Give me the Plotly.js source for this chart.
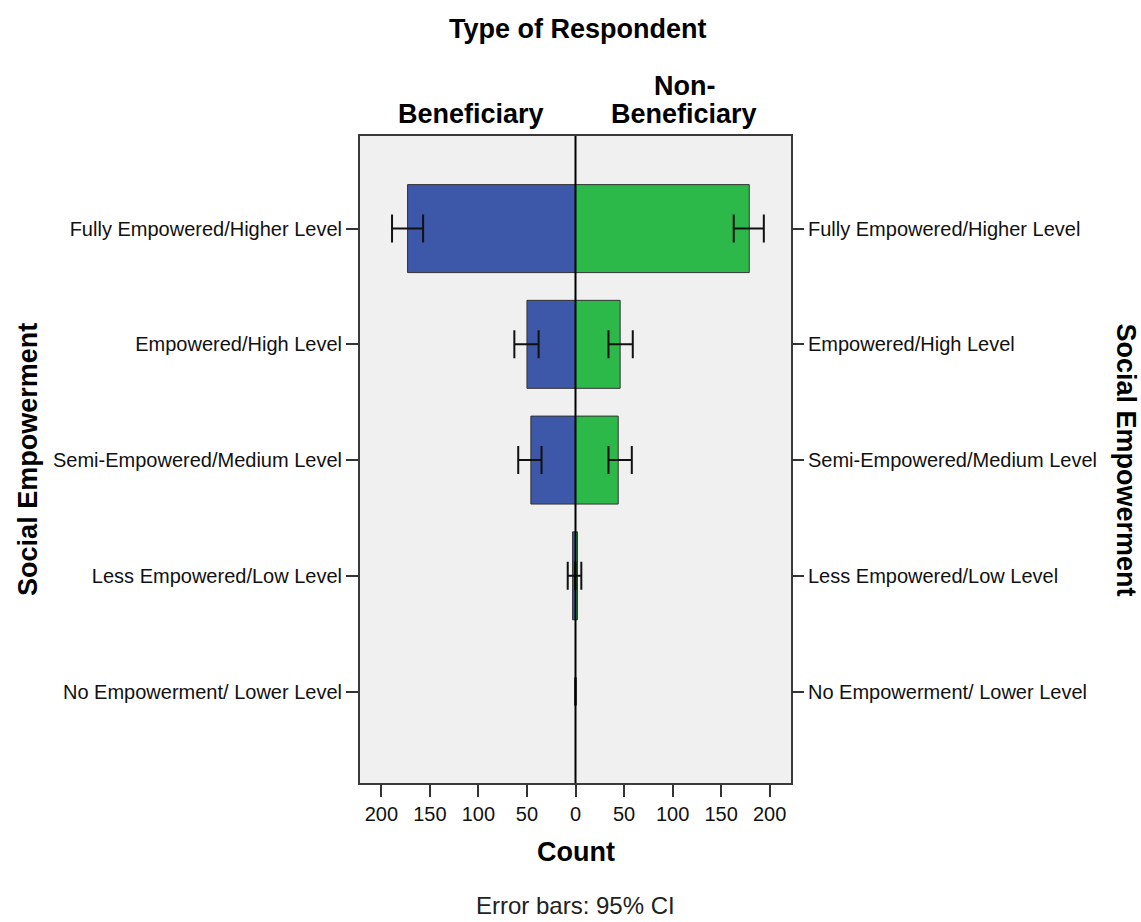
<!DOCTYPE html>
<html>
<head>
<meta charset="utf-8">
<script src="https://cdn.plot.ly/plotly-3.0.1.min.js"></script>
<style>html,body{margin:0;padding:0;background:#fff;}#chart{width:1141px;height:922px;}</style>
</head>
<body>
<div id="chart"></div>
<script>
// Categories (top to bottom)
const categories = [
  'Fully Empowered/Higher Level',
  'Empowered/High Level',
  'Semi-Empowered/Medium Level',
  'Less Empowered/Low Level',
  'No Empowerment/ Lower Level'
];
// Beneficiary counts and 95% CI bounds
const benCount = [173, 50, 46, 3, 0];
const benLower = [157, 38, 35, 0.5, null];
const benUpper = [189, 63, 59, 8, null];
// Non-Beneficiary counts and 95% CI bounds
const nonCount = [179, 46, 44, 2, 0];
const nonLower = [163, 34, 34, 0, null];
const nonUpper = [194, 59, 58, 6, null];
// Axis tick values/labels
const xTickVals = [-200, -150, -100, -50, 0, 50, 100, 150, 200];
const xTickText = ['200', '150', '100', '50', '0', '50', '100', '150', '200'];

const FONT = '"Liberation Sans", Arial, sans-serif';

const benX = benCount.map(v => -v);
// For mirrored (negative) bars: +x direction = toward zero (lower bound)
const benPlus = benCount.map((v, i) => benLower[i] == null ? null : v - benLower[i]);
const benMinus = benCount.map((v, i) => benUpper[i] == null ? null : benUpper[i] - v);
const nonPlus = nonCount.map((v, i) => nonUpper[i] == null ? null : nonUpper[i] - v);
const nonMinus = nonCount.map((v, i) => nonLower[i] == null ? null : v - nonLower[i]);
// no outline for empty (zero) bars
const benOutline = benCount.map(v => v > 0 ? 1 : 0);
const nonOutline = nonCount.map(v => v > 0 ? 1 : 0);

const errStyle = {color: '#111', thickness: 2, width: 14};

const traces = [
  {
    type: 'bar', orientation: 'h', name: 'Beneficiary',
    y: categories, x: benX, width: 0.76,
    marker: {color: '#3d57a9', line: {color: '#333', width: benOutline}},
    error_x: Object.assign({type: 'data', symmetric: false, array: benPlus, arrayminus: benMinus, visible: true}, errStyle),
    hoverinfo: 'skip'
  },
  {
    type: 'bar', orientation: 'h', name: 'Non-Beneficiary',
    y: categories, x: nonCount, width: 0.76,
    marker: {color: '#2db84a', line: {color: '#333', width: nonOutline}},
    error_x: Object.assign({type: 'data', symmetric: false, array: nonPlus, arrayminus: nonMinus, visible: true}, errStyle),
    hoverinfo: 'skip'
  },
  {
    type: 'scatter', mode: 'markers', y: categories, x: categories.map(() => 0),
    yaxis: 'y2', marker: {opacity: 0}, hoverinfo: 'skip', showlegend: false
  }
];

const yRange = [4.79, -0.8];

const layout = {
  width: 1141, height: 922,
  margin: {l: 360, r: 349.5, t: 136, b: 139.3, pad: 0},
  paper_bgcolor: '#ffffff',
  plot_bgcolor: '#f0f0f0',
  barmode: 'overlay',
  showlegend: false,
  font: {family: FONT, color: '#111'},
  xaxis: {
    range: [-222, 222],
    tickmode: 'array', tickvals: xTickVals, ticktext: xTickText,
    ticks: 'outside', ticklen: 12, tickwidth: 2, tickcolor: '#333',
    tickfont: {size: 20, family: FONT, color: '#111'},
    showgrid: false, zeroline: false,
    showline: true, linecolor: '#3a3a3a', linewidth: 2, mirror: true
  },
  yaxis: {
    type: 'category', categoryorder: 'array', categoryarray: categories,
    range: yRange,
    ticks: 'outside', ticklen: 12, tickwidth: 2, tickcolor: '#333',
    tickfont: {size: 20, family: FONT, color: '#111'},
    showgrid: false, zeroline: false,
    showline: true, linecolor: '#3a3a3a', linewidth: 2, mirror: true
  },
  yaxis2: {
    type: 'category', categoryorder: 'array', categoryarray: categories,
    range: yRange, overlaying: 'y', side: 'right',
    ticks: 'outside', ticklen: 12, tickwidth: 2, tickcolor: '#333',
    tickfont: {size: 20, family: FONT, color: '#111'},
    showgrid: false, zeroline: false, showline: false
  },
  shapes: [
    {type: 'line', xref: 'x', yref: 'paper', x0: 0, x1: 0, y0: 0, y1: 1,
     line: {color: '#000', width: 2}, layer: 'above'}
  ],
  annotations: [
    {text: '<b>Type of Respondent</b>', xref: 'paper', yref: 'paper', x: 0.505, y: 1.1654,
     xanchor: 'center', yanchor: 'middle', showarrow: false, font: {size: 27, family: FONT, color: '#000'}},
    {text: '<b>Beneficiary</b>', xref: 'x', yref: 'paper', x: -108, y: 1.034,
     xanchor: 'center', yanchor: 'middle', showarrow: false, font: {size: 27, family: FONT, color: '#000'}},
    {text: '<b>Non-</b>', xref: 'x', yref: 'paper', x: 112, y: 1.0773,
     xanchor: 'center', yanchor: 'middle', showarrow: false, font: {size: 27, family: FONT, color: '#000'}},
    {text: '<b>Beneficiary</b>', xref: 'x', yref: 'paper', x: 112, y: 1.034,
     xanchor: 'center', yanchor: 'middle', showarrow: false, font: {size: 27, family: FONT, color: '#000'}},
    {text: '<b>Count</b>', xref: 'paper', yref: 'paper', x: 0.502, y: -0.1072,
     xanchor: 'center', yanchor: 'middle', showarrow: false, font: {size: 27, family: FONT, color: '#000'}},
    {text: 'Error bars: 95% CI', xref: 'paper', yref: 'paper', x: 0.4995, y: -0.1891,
     xanchor: 'center', yanchor: 'middle', showarrow: false, font: {size: 24, family: FONT, color: '#222'}},
    {text: '<b>Social Empowerment</b>', xref: 'paper', yref: 'paper', x: -0.7717, y: 0.5,
     xanchor: 'center', yanchor: 'middle', textangle: -90, showarrow: false, font: {size: 27, family: FONT, color: '#000'}},
    {text: '<b>Social Empowerment</b>', xref: 'paper', yref: 'paper', x: 1.7775, y: 0.5,
     xanchor: 'center', yanchor: 'middle', textangle: 90, showarrow: false, font: {size: 27, family: FONT, color: '#000'}}
  ]
};

Plotly.newPlot('chart', traces, layout, {displayModeBar: false, staticPlot: true});
</script>
</body>
</html>
